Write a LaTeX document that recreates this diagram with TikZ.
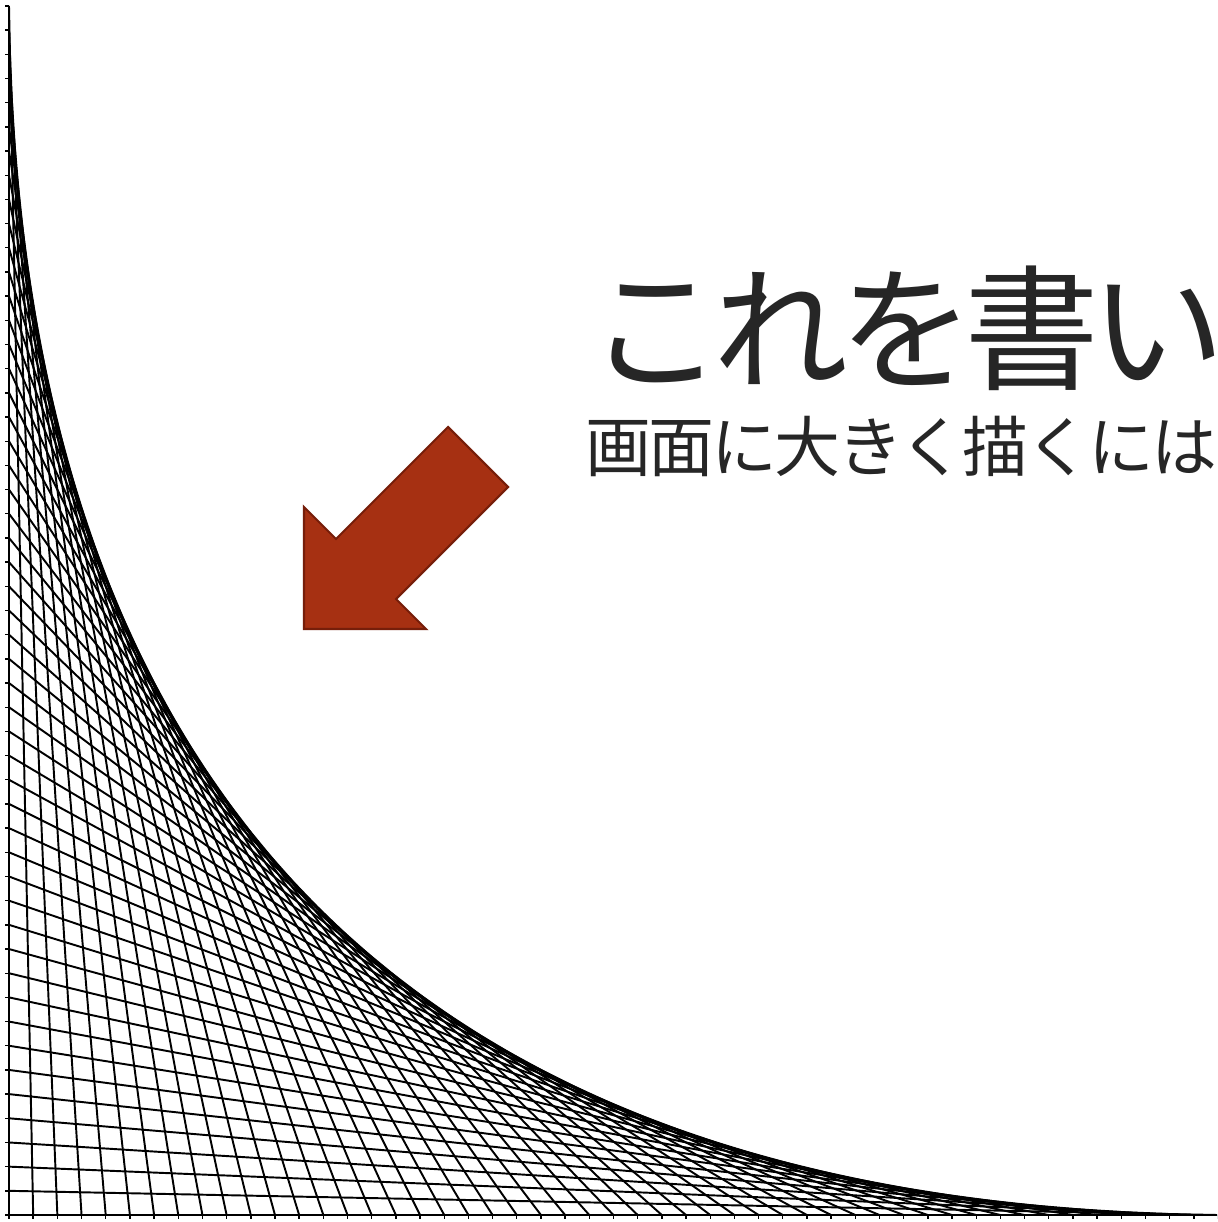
\documentclass[tikz,border=0pt]{standalone}
\usepackage{fontspec}
\newfontfamily\jpfontbig[LetterSpace=-7]{Noto Sans CJK JP}
\newfontfamily\jpfontsmall[LetterSpace=-4.5]{Noto Sans CJK JP}
\definecolor{txt}{RGB}{38,38,38}
\definecolor{arrowfill}{RGB}{166,48,18}
\definecolor{arrowedge}{RGB}{118,30,10}
\begin{document}
\begin{tikzpicture}[x=0.02cm,y=-0.02cm,
  string/.style={line width=1.1pt,black},
  axisline/.style={line width=1.1pt,black},
  tick/.style={line width=0.8pt,black},
  bigtext/.style={anchor=base west,inner sep=0pt,text=txt,font=\jpfontbig\fontsize{76.8}{84}\selectfont},
  smalltext/.style={anchor=base west,inner sep=0pt,text=txt,font=\jpfontsmall\fontsize{37.5}{42}\selectfont},
  bigarrow/.style={fill=arrowfill,draw=arrowedge,line width=1.2pt,line join=miter}]
\useasboundingbox (0,0) rectangle (1217,1222);
\clip (0,0) rectangle (1217,1222);
\fill[white] (0,0) rectangle (1217,1222);
% string art
\foreach \k in {1,...,50}{
  \draw[string] (9,{1215-(51-\k)*24.18}) -- ({9+\k*24.18},1215);
}
% axes
\draw[axisline] (9,6) -- (9,1215) -- (1217,1215);
\foreach \k in {0,...,50}{
  \draw[tick] (5,{1215-\k*24.18}) -- (9,{1215-\k*24.18});
  \draw[tick] ({9+\k*24.18},1215) -- ({9+\k*24.18},1219);
}
% arrow
\draw[bigarrow] (304,629) -- (304,507) -- (336,539) -- (448,427) -- (508,487) -- (396,599) -- (426,629) -- cycle;
% texts
\node[bigtext] (title) at (588,380) {これを書い};
\node[smalltext] (sub) at (585,471.5) {画面に大きく描くには};
\end{tikzpicture}
\end{document}
